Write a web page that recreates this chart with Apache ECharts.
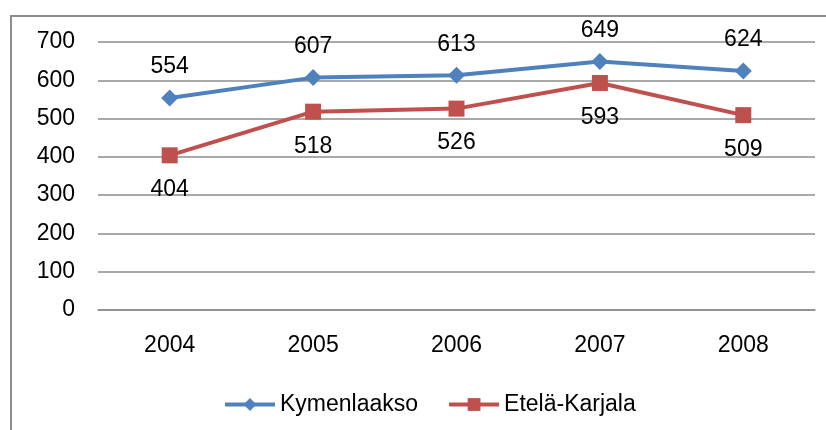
<!DOCTYPE html>
<html>
<head>
<meta charset="utf-8">
<script src="https://cdn.jsdelivr.net/npm/echarts@6/dist/echarts.min.js"></script>
<style>
html,body{margin:0;padding:0;background:#fff;}
#c{width:826px;height:430px;}
</style>
</head>
<body>
<div id="c"></div>
<script>
var categories = ['2004', '2005', '2006', '2007', '2008'];
var kymenlaakso = [554, 607, 613, 649, 624];
var etelaKarjala = [404, 518, 526, 593, 509];
var seriesNames = ['Kymenlaakso', 'Etelä-Karjala'];

var font = 'Liberation Sans, Arial, sans-serif';
var chart = echarts.init(document.getElementById('c'));
chart.setOption({
  animation: false,
  backgroundColor: '#ffffff',
  graphic: [{
    type: 'rect', silent: true, z: -1,
    shape: { x: 11, y: 16, width: 840, height: 440 },
    style: { fill: 'none', stroke: '#8c8c8c', lineWidth: 2 }
  }],
  grid: { left: 98, right: 11, top: 42, bottom: 120 },
  legend: {
    top: 388, left: 218,
    itemWidth: 50, itemHeight: 16, itemGap: 29,
    lineStyle: { width: 4 },
    textStyle: { fontFamily: font, fontSize: 23, color: '#000' },
    data: seriesNames
  },
  xAxis: {
    type: 'category', data: categories, boundaryGap: true,
    axisLine: { show: true, lineStyle: { color: '#8c8c8c', width: 1.5 } },
    axisTick: { show: false },
    axisLabel: { margin: 24, fontFamily: font, fontSize: 23, color: '#000' }
  },
  yAxis: {
    type: 'value', min: 0, max: 700, interval: 100,
    axisLine: { show: false }, axisTick: { show: false },
    splitLine: { lineStyle: { color: '#8c8c8c', width: 1.5 } },
    axisLabel: { margin: 23, fontFamily: font, fontSize: 23, color: '#000' }
  },
  series: [{
    name: seriesNames[0], type: 'line', data: kymenlaakso,
    symbol: 'diamond', symbolSize: 17,
    itemStyle: { color: '#4F81BD' },
    lineStyle: { color: '#4F81BD', width: 4 },
    label: { show: true, position: 'top', distance: 11, fontFamily: font, fontSize: 23, color: '#000' }
  }, {
    name: seriesNames[1], type: 'line', data: etelaKarjala,
    symbol: 'rect', symbolSize: 16,
    itemStyle: { color: '#C0504D' },
    lineStyle: { color: '#C0504D', width: 4 },
    label: { show: true, position: 'bottom', distance: 15, fontFamily: font, fontSize: 23, color: '#000' }
  }]
});
</script>
</body>
</html>
